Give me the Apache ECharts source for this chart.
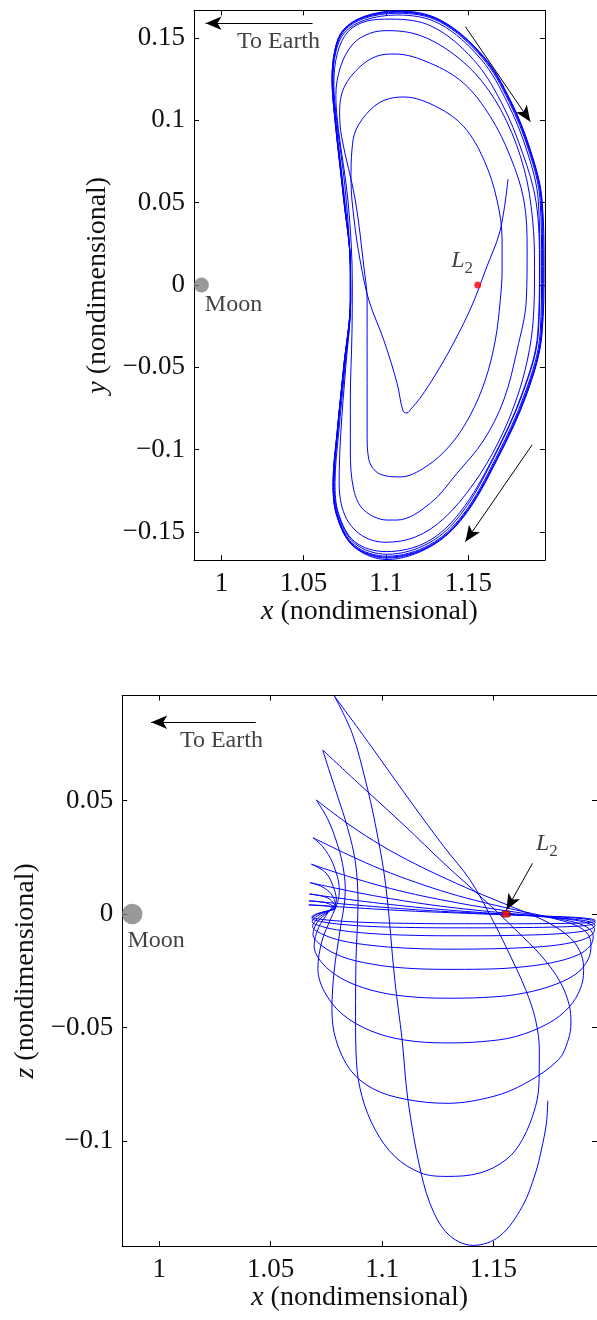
<!DOCTYPE html>
<html><head><meta charset="utf-8">
<script src="https://cdn.jsdelivr.net/npm/echarts@6.0.0/dist/echarts.min.js"></script>
<style>html,body{margin:0;padding:0;background:#fff}#c{width:597px;height:1320px}</style>
</head><body><div id="c"></div><script>
// ---------- axis ticks / ranges ----------
const xTicks = [1, 1.05, 1.1, 1.15];
const yTicks = [-0.15, -0.1, -0.05, 0, 0.05, 0.1, 0.15];
const zTicks = [-0.1, -0.05, 0, 0.05];
const xRange = [0.98333, 1.1965];
const yRange = [-0.1672, 0.1668];
const zRange = [-0.1463, 0.0962];

// ---------- bodies ----------
const moonPos = [0.98785, 0];
const l2Pos = [1.15568, 0];

// ---------- x-y projection, one array per revolution ----------
const xyRev0 = [[1.1741,0.0644],[1.1694,0.0334],[1.1609,0.0103],[1.1523,-0.0122],[1.1420,-0.0334],[1.1310,-0.0529],[1.1207,-0.0687],[1.1150,-0.0755],[1.1127,-0.0778],[1.1103,-0.0765],[1.1067,-0.0597],[1.0986,-0.0334],[1.0895,-0.0091],[1.0842,0.0152],[1.0806,0.0395],[1.0787,0.0638]];
const xyRev1 = [[1.0787,0.0638],[1.0793,0.0820],[1.0817,0.0942],[1.0903,0.1063],[1.0994,0.1124],[1.1109,0.1142],[1.1310,0.1081],[1.1474,0.0960],[1.1595,0.0759],[1.1674,0.0516],[1.1705,0.0273],[1.1705,0.0091],[1.1694,-0.0091],[1.1664,-0.0334],[1.1603,-0.0577],[1.1512,-0.0790],[1.1391,-0.0972],[1.1239,-0.1106],[1.1087,-0.1166],[1.1000,-0.1160],[1.0935,-0.1130],[1.0895,-0.1060],[1.0885,-0.0899],[1.0885,-0.0496],[1.0885,-0.0091],[1.0865,0.0111],[1.0813,0.0516]];
const xyRev2 = [[1.0813,0.0516],[1.0730,0.0900],[1.0718,0.1050],[1.0745,0.1200],[1.0842,0.1326],[1.0950,0.1392],[1.1056,0.1403],[1.1269,0.1347],[1.1472,0.1225],[1.1634,0.1022],[1.1755,0.0779],[1.1837,0.0516],[1.1857,0.0213],[1.1852,-0.0091],[1.1796,-0.0395],[1.1715,-0.0699],[1.1594,-0.0942],[1.1431,-0.1144],[1.1269,-0.1326],[1.1067,-0.1428],[1.1006,-0.1428],[1.0865,-0.1367],[1.0804,-0.1245],[1.0783,-0.1002],[1.0783,-0.0699],[1.0793,-0.0292],[1.0795,0.0000],[1.0770,0.0500],[1.0710,0.0950]];
const xyRev3 = [[1.0710,0.0950],[1.0695,0.1150],[1.0725,0.1330],[1.0800,0.1465],[1.0900,0.1528],[1.1006,0.1545],[1.1200,0.1518],[1.1400,0.1410],[1.1580,0.1240],[1.1730,0.1000],[1.1840,0.0700],[1.1890,0.0400],[1.1902,0.0100],[1.1895,-0.0200],[1.1860,-0.0450],[1.1790,-0.0700],[1.1680,-0.0960],[1.1530,-0.1210],[1.1350,-0.1420],[1.1180,-0.1530],[1.0996,-0.1563],[1.0850,-0.1520],[1.0750,-0.1400],[1.0715,-0.1200],[1.0725,-0.0900],[1.0755,-0.0500],[1.0785,-0.0100],[1.0780,0.0200],[1.0750,0.0600],[1.0700,0.1000]];
const xyRev4 = [[1.0700,0.1000],[1.0683,0.1220],[1.0705,0.1410],[1.0770,0.1540],[1.0880,0.1602],[1.1030,0.1615],[1.1280,0.1570],[1.1530,0.1370],[1.1700,0.1110],[1.1830,0.0800],[1.1912,0.0500],[1.1932,0.0110],[1.1922,-0.0290],[1.1830,-0.0650],[1.1650,-0.1050],[1.1450,-0.1380],[1.1250,-0.1560],[1.1000,-0.1620],[1.0810,-0.1560],[1.0712,-0.1390],[1.0690,-0.1200],[1.0712,-0.0900],[1.0750,-0.0500],[1.0785,-0.0100],[1.0782,0.0150],[1.0745,0.0550],[1.0695,0.1000]];
const xyRev5 = [[1.0695,0.1000],[1.0678,0.1245],[1.0696,0.1420],[1.0750,0.1535],[1.0868,0.1608],[1.1067,0.1640],[1.1322,0.1588],[1.1578,0.1370],[1.1737,0.1108],[1.1858,0.0808],[1.1925,0.0510],[1.1934,0.0111],[1.1925,-0.0290],[1.1835,-0.0646],[1.1656,-0.1046],[1.1458,-0.1388],[1.1261,-0.1567],[1.1006,-0.1636],[1.0810,-0.1570],[1.0710,-0.1395],[1.0685,-0.1200],[1.0706,-0.0900],[1.0746,-0.0496],[1.0785,-0.0091],[1.0784,0.0111],[1.0745,0.0516],[1.0693,0.1000]];
const xyRev6 = [[1.0693,0.1000],[1.0675,0.1248],[1.0693,0.1425],[1.0745,0.1543],[1.0866,0.1619],[1.1067,0.1651],[1.1326,0.1599],[1.1586,0.1379],[1.1746,0.1116],[1.1868,0.0814],[1.1936,0.0513],[1.1945,0.0111],[1.1936,-0.0292],[1.1846,-0.0652],[1.1665,-0.1055],[1.1465,-0.1398],[1.1265,-0.1578],[1.1006,-0.1648],[1.0807,-0.1580],[1.0706,-0.1401],[1.0681,-0.1203],[1.0704,-0.0901],[1.0744,-0.0496],[1.0784,-0.0091],[1.0784,0.0111],[1.0744,0.0516],[1.0691,0.1000]];
const xyRev7 = [[1.0691,0.1000],[1.0673,0.1249],[1.0691,0.1428],[1.0742,0.1547],[1.0865,0.1625],[1.1067,0.1657],[1.1328,0.1604],[1.1590,0.1383],[1.1750,0.1120],[1.1872,0.0817],[1.1942,0.0515],[1.1951,0.0111],[1.1942,-0.0293],[1.1851,-0.0655],[1.1670,-0.1059],[1.1468,-0.1403],[1.1267,-0.1584],[1.1006,-0.1654],[1.0805,-0.1585],[1.0704,-0.1405],[1.0679,-0.1204],[1.0703,-0.0901],[1.0743,-0.0496],[1.0783,-0.0091],[1.0783,0.0111],[1.0743,0.0516],[1.0690,0.1000]];
const xyRev8 = [[1.0690,0.1000],[1.0672,0.1250],[1.0690,0.1430],[1.0741,0.1549],[1.0865,0.1628],[1.1067,0.1661],[1.1329,0.1607],[1.1592,0.1385],[1.1753,0.1122],[1.1875,0.0819],[1.1945,0.0516],[1.1955,0.0111],[1.1945,-0.0293],[1.1854,-0.0657],[1.1672,-0.1061],[1.1470,-0.1405],[1.1268,-0.1587],[1.1006,-0.1659],[1.0804,-0.1588],[1.0703,-0.1407],[1.0678,-0.1205],[1.0702,-0.0901],[1.0743,-0.0496],[1.0783,-0.0091],[1.0783,0.0111],[1.0743,0.0516],[1.0690,0.1000]];
const xyRev9 = [[1.0690,0.1000],[1.0672,0.1250],[1.0690,0.1430],[1.0740,0.1550],[1.0865,0.1631],[1.1067,0.1665],[1.1330,0.1610],[1.1594,0.1387],[1.1755,0.1124],[1.1877,0.0820],[1.1948,0.0516],[1.1960,0.0111],[1.1948,-0.0293],[1.1857,-0.0658],[1.1674,-0.1063],[1.1472,-0.1408],[1.1269,-0.1590],[1.1006,-0.1668],[1.0804,-0.1590],[1.0702,-0.1408],[1.0678,-0.1205],[1.0702,-0.0901],[1.0743,-0.0496],[1.0783,-0.0091],[1.0783,0.0111]];

// ---------- x-z projection, one array per revolution ----------
const xzRev0 = [[1.1744,-0.0822],[1.1738,-0.0921],[1.1715,-0.1040],[1.1689,-0.1141],[1.1630,-0.1288],[1.1527,-0.1420],[1.1410,-0.1460],[1.1307,-0.1420],[1.1233,-0.1317],[1.1175,-0.1141],[1.1116,-0.0818],[1.1090,-0.0554],[1.1057,-0.0290],[1.1016,0.0130],[1.0969,0.0399],[1.0925,0.0590],[1.0866,0.0795],[1.0786,0.0960]];
const xzRev1 = [[1.0786,0.0960],[1.0950,0.0740],[1.1110,0.0520],[1.1278,0.0296],[1.1395,0.0150],[1.1490,-0.0015],[1.1556,-0.0144],[1.1645,-0.0334],[1.1690,-0.0470],[1.1706,-0.0600],[1.1705,-0.0730],[1.1689,-0.0848],[1.1630,-0.0994],[1.1557,-0.1082],[1.1439,-0.1141],[1.1292,-0.1156],[1.1175,-0.1141],[1.1057,-0.1068],[1.0969,-0.0950],[1.0910,-0.0804],[1.0885,-0.0650],[1.0881,-0.0450],[1.0883,-0.0200],[1.0892,0.0050],[1.0880,0.0230],[1.0845,0.0380],[1.0800,0.0520],[1.0760,0.0640],[1.0734,0.0722]];
const xzRev2 = [[1.0734,0.0722],[1.0900,0.0570],[1.1100,0.0390],[1.1278,0.0223],[1.1450,0.0070],[1.1600,-0.0070],[1.1720,-0.0190],[1.1800,-0.0300],[1.1840,-0.0400],[1.1848,-0.0480],[1.1836,-0.0554],[1.1792,-0.0642],[1.1645,-0.0745],[1.1498,-0.0804],[1.1292,-0.0834],[1.1100,-0.0815],[1.0960,-0.0770],[1.0860,-0.0690],[1.0793,-0.0554],[1.0775,-0.0420],[1.0785,-0.0250],[1.0810,-0.0080],[1.0835,0.0106],[1.0822,0.0223],[1.0793,0.0326],[1.0755,0.0420],[1.0705,0.0502]];
const xzRev3 = [[1.0705,0.0502],[1.0850,0.0395],[1.1000,0.0300],[1.1150,0.0220],[1.1300,0.0150],[1.1450,0.0085],[1.1600,0.0025],[1.1750,-0.0040],[1.1850,-0.0110],[1.1895,-0.0180],[1.1905,-0.0250],[1.1890,-0.0330],[1.1840,-0.0410],[1.1750,-0.0480],[1.1600,-0.0540],[1.1450,-0.0562],[1.1292,-0.0568],[1.1100,-0.0555],[1.0950,-0.0515],[1.0820,-0.0440],[1.0740,-0.0340],[1.0712,-0.0240],[1.0730,-0.0120],[1.0770,-0.0020],[1.0800,0.0050],[1.0808,0.0106],[1.0779,0.0223],[1.0734,0.0296],[1.0690,0.0336]];
const xzRev4 = [[1.0690,0.0336],[1.0850,0.0260],[1.1000,0.0195],[1.1150,0.0140],[1.1300,0.0092],[1.1450,0.0052],[1.1600,0.0018],[1.1750,-0.0015],[1.1870,-0.0050],[1.1925,-0.0090],[1.1938,-0.0140],[1.1925,-0.0200],[1.1870,-0.0265],[1.1750,-0.0320],[1.1600,-0.0355],[1.1450,-0.0368],[1.1292,-0.0371],[1.1100,-0.0362],[1.0950,-0.0335],[1.0820,-0.0285],[1.0730,-0.0215],[1.0695,-0.0140],[1.0715,-0.0060],[1.0760,0.0010],[1.0795,0.0060],[1.0786,0.0106],[1.0749,0.0180],[1.0683,0.0219]];
const xzRev5 = [[1.0683,0.0219],[1.0850,0.0165],[1.1000,0.0122],[1.1150,0.0086],[1.1300,0.0056],[1.1450,0.0030],[1.1600,0.0008],[1.1750,-0.0014],[1.1870,-0.0038],[1.1930,-0.0065],[1.1948,-0.0100],[1.1935,-0.0140],[1.1880,-0.0180],[1.1760,-0.0215],[1.1600,-0.0236],[1.1450,-0.0243],[1.1292,-0.0244],[1.1100,-0.0238],[1.0950,-0.0220],[1.0820,-0.0188],[1.0730,-0.0140],[1.0690,-0.0090],[1.0710,-0.0035],[1.0760,0.0010],[1.0792,0.0040],[1.0770,0.0090],[1.0730,0.0120],[1.0677,0.0138]];
const xzRev6 = [[1.0677,0.0138],[1.0850,0.0102],[1.1000,0.0074],[1.1150,0.0050],[1.1300,0.0030],[1.1450,0.0014],[1.1600,0.0000],[1.1750,-0.0014],[1.1870,-0.0028],[1.1935,-0.0045],[1.1954,-0.0068],[1.1940,-0.0093],[1.1885,-0.0118],[1.1760,-0.0140],[1.1600,-0.0150],[1.1450,-0.0154],[1.1292,-0.0155],[1.1100,-0.0150],[1.0950,-0.0138],[1.0820,-0.0118],[1.0730,-0.0088],[1.0688,-0.0055],[1.0710,-0.0020],[1.0760,0.0012],[1.0790,0.0032],[1.0765,0.0065],[1.0725,0.0080],[1.0674,0.0088]];
const xzRev7 = [[1.0674,0.0088],[1.0850,0.0064],[1.1000,0.0046],[1.1150,0.0030],[1.1300,0.0017],[1.1450,0.0006],[1.1600,-0.0004],[1.1750,-0.0014],[1.1870,-0.0024],[1.1938,-0.0036],[1.1956,-0.0050],[1.1942,-0.0064],[1.1888,-0.0078],[1.1760,-0.0089],[1.1600,-0.0094],[1.1450,-0.0096],[1.1292,-0.0096],[1.1100,-0.0093],[1.0950,-0.0086],[1.0820,-0.0073],[1.0730,-0.0055],[1.0686,-0.0033],[1.0710,-0.0008],[1.0760,0.0014],[1.0789,0.0026],[1.0760,0.0045],[1.0720,0.0054],[1.0672,0.0058]];
const xzRev8 = [[1.0672,0.0058],[1.0850,0.0042],[1.1000,0.0030],[1.1150,0.0019],[1.1300,0.0010],[1.1450,0.0003],[1.1600,-0.0004],[1.1750,-0.0011],[1.1870,-0.0018],[1.1940,-0.0027],[1.1957,-0.0037],[1.1943,-0.0046],[1.1890,-0.0053],[1.1760,-0.0058],[1.1600,-0.0060],[1.1450,-0.0061],[1.1292,-0.0061],[1.1100,-0.0059],[1.0950,-0.0055],[1.0820,-0.0046],[1.0730,-0.0034],[1.0685,-0.0019],[1.0710,-0.0001],[1.0760,0.0015],[1.0788,0.0022],[1.0760,0.0034],[1.0720,0.0038],[1.0671,0.0040]];
const xzRev9 = [[1.0671,0.0040],[1.0850,0.0029],[1.1000,0.0020],[1.1150,0.0012],[1.1300,0.0006],[1.1450,0.0000],[1.1600,-0.0005],[1.1750,-0.0010],[1.1870,-0.0015],[1.1940,-0.0022],[1.1958,-0.0030],[1.1944,-0.0036],[1.1890,-0.0040],[1.1760,-0.0042],[1.1600,-0.0043],[1.1450,-0.0043],[1.1292,-0.0043],[1.1100,-0.0041],[1.0950,-0.0038],[1.0820,-0.0032],[1.0730,-0.0024],[1.0684,-0.0013],[1.0710,0.0002],[1.0760,0.0014],[1.0788,0.0019]];

// ---------- annotations (data coordinates) ----------
const xyArrows = [[[1.05535,0.1590],[0.99034,0.1590]], [[1.14818,0.15693],[1.18767,0.09921]], [[1.1887,-0.0972],[1.1482,-0.15595]]];
const xzArrows = [[[1.0433,0.08445],[0.99634,0.08445]], [[1.16753,0.02233],[1.15582,0.00176]]];
const xyNotes = [['To Earth',1.0347,0.1476],['Moon',1.00735,-0.01185],['L2',1.1462,0.0134]];
const xzNotes = [['To Earth',1.02789,0.0762],['Moon',0.99855,-0.0118],['L2',1.17401,0.02996]];

// ---------- build ----------
const FONT = 'Liberation Serif';
function joinRevs(revs){
  const out=[];
  revs.forEach(r=>r.forEach(p=>{
    const l=out[out.length-1];
    if(!l || l[0]!==p[0] || l[1]!==p[1]) out.push(p);
  }));
  return out;
}
const xyPath = joinRevs([xyRev0,xyRev1,xyRev2,xyRev3,xyRev4,xyRev5,xyRev6,xyRev7,xyRev8,xyRev9]);
const xzPath = joinRevs([xzRev0,xzRev1,xzRev2,xzRev3,xzRev4,xzRev5,xzRev6,xzRev7,xzRev8,xzRev9]);

const fmt = v => (v < 0 ? '\u2212' + String(-v) : String(v));
const titleStyle = {color:'#111', fontFamily:FONT, fontSize:28,
  rich:{it:{fontStyle:'italic', fontFamily:FONT, fontSize:28, color:'#111'}}};

function axis(grid, pos, range, ticks, withLabel, name, gap){
  const a = {type:'value', gridIndex:grid, position:pos, min:range[0], max:range[1],
    axisLine:{show:true, onZero:false, lineStyle:{color:'#000', width:1}},
    axisTick:{show:true, inside:true, length:5, customValues:ticks, lineStyle:{color:'#000', width:1}},
    axisLabel:{show:withLabel, customValues:ticks, formatter:fmt, color:'#111', fontFamily:FONT, fontSize:27, margin:(pos==='bottom'?10:9)},
    splitLine:{show:false}};
  if(name){ a.name=name; a.nameLocation='middle'; a.nameGap=gap; a.nameTextStyle=titleStyle; }
  return a;
}

function notesSeries(notes, xi, yi){
  return {type:'scatter', xAxisIndex:xi, yAxisIndex:yi, symbolSize:1, silent:true,
    itemStyle:{color:'rgba(0,0,0,0)'}, z:5,
    data: notes.map(n=>({value:[n[1],n[2]], name:n[0]})),
    label:{show:true, position:'inside', align:'center', verticalAlign:'middle',
      color:'#111', fontFamily:FONT, fontSize:24,
      formatter: p => p.name==='L2' ? '{l|L}{s|2}' : p.name,
      rich:{l:{fontStyle:'italic', fontFamily:FONT, fontSize:24, lineHeight:28, verticalAlign:'top', color:'#111'},
            s:{fontFamily:FONT, fontSize:17, lineHeight:28, verticalAlign:'bottom', color:'#111'}}}};
}
function arrowSeries(arrows, xi, yi){
  return {type:'line', xAxisIndex:xi, yAxisIndex:yi, data:[], silent:true,
    markLine:{silent:true, animation:false, symbol:['none','arrow'], precision:6,
      label:{show:false}, lineStyle:{color:'#000', width:1, type:'solid'},
      emphasis:{disabled:true},
      data: arrows.map(a=>[{coord:a[0], symbol:'none'},{coord:a[1], symbol:'arrow', symbolSize:[10,16]}])}};
}

const option = {
  animation:false,
  backgroundColor:'#fff',
  grid:[
    {left:194, top:10.4, width:350.9, height:549.8, show:false},
    {left:122.2, top:695.6, width:483.9, height:550.5, show:false}
  ],
  xAxis:[
    axis(0,'bottom',xRange,xTicks,true,'{it|x} (nondimensional)',35),
    axis(0,'top',xRange,xTicks,false),
    axis(1,'bottom',xRange,xTicks,true,'{it|x} (nondimensional)',37),
    axis(1,'top',xRange,xTicks,false)
  ],
  yAxis:[
    axis(0,'left',yRange,yTicks,true,'{it|y} (nondimensional)',81),
    axis(0,'right',yRange,yTicks,false),
    axis(1,'left',zRange,zTicks,true,'{it|z} (nondimensional)',79),
    axis(1,'right',zRange,zTicks,false)
  ],
  series:[
    {type:'line', xAxisIndex:0, yAxisIndex:0, data:xyPath, symbol:'none', smooth:0.35, silent:true,
      lineStyle:{color:'#0000ff', width:1}},
    {type:'line', xAxisIndex:2, yAxisIndex:2, data:xzPath, symbol:'none', smooth:0.35, silent:true,
      lineStyle:{color:'#0000ff', width:1}},
    {type:'scatter', xAxisIndex:0, yAxisIndex:0, data:[moonPos], symbolSize:14.9, silent:true, itemStyle:{color:'#808080'}},
    {type:'scatter', xAxisIndex:2, yAxisIndex:2, data:[moonPos], symbolSize:20.5, silent:true, itemStyle:{color:'#808080'}},
    {type:'scatter', xAxisIndex:0, yAxisIndex:0, data:[l2Pos], symbolSize:7, silent:true, itemStyle:{color:'#ff0000'}, z:4},
    {type:'scatter', xAxisIndex:2, yAxisIndex:2, data:[l2Pos], symbol:'roundRect', symbolSize:[8,6], silent:true, itemStyle:{color:'#ff0000', borderColor:'#660000', borderWidth:1}, z:4},
    arrowSeries(xyArrows,0,0),
    arrowSeries(xzArrows,2,2),
    notesSeries(xyNotes,0,0),
    notesSeries(xzNotes,2,2)
  ]
};
const chart = echarts.init(document.getElementById('c'), null, {renderer:'canvas'});
chart.setOption(option);
</script></body></html>
